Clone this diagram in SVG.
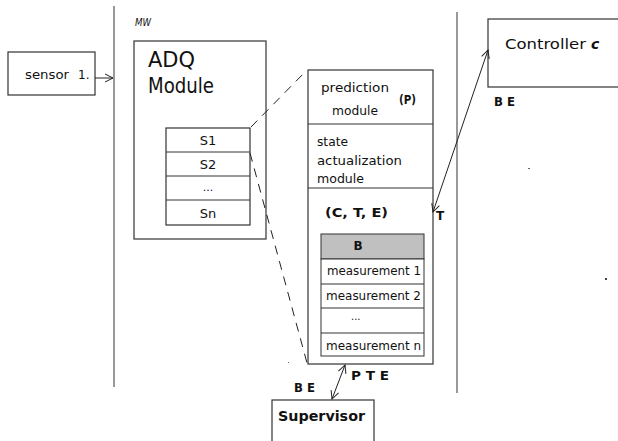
<svg xmlns="http://www.w3.org/2000/svg" width="618" height="441" viewBox="0 0 618 441">
  <style>
    .box { fill: #fff; stroke: #333; stroke-width: 1.2; }
    .t { font-family: "DejaVu Sans", "Liberation Sans", sans-serif; fill: #111; }
    .b { font-weight: bold; }
    .sep { stroke: #777; stroke-width: 1.5; }
    .dash { stroke: #222; stroke-width: 1; fill: none; stroke-dasharray: 9 7; }
    .arr { stroke: #222; stroke-width: 1; fill: none; }
  </style>
  <defs>
    <marker id="head" viewBox="0 0 10 10" refX="9" refY="5" markerWidth="10" markerHeight="10" markerUnits="userSpaceOnUse" orient="auto-start-reverse">
      <path d="M1,1 L9,5 L1,9" fill="none" stroke="#222" stroke-width="1"/>
    </marker>
  </defs>

  <!-- layer separators -->
  <line class="sep" x1="114" y1="6" x2="114" y2="387"/>
  <line class="sep" x1="457" y1="12" x2="457" y2="393" stroke="#333" stroke-width="1.2"/>
  <text class="t" x="135" y="26" font-size="11" font-style="italic" textLength="16" lengthAdjust="spacingAndGlyphs">MW</text>

  <g id="sensor">
    <rect class="box" x="8" y="52" width="87" height="43"/>
    <text class="t" x="25" y="79" font-size="12" textLength="44" lengthAdjust="spacingAndGlyphs">sensor</text>
    <text class="t" x="78" y="79" font-size="12">1.</text>
  </g>

  <g id="adq-module">
    <rect class="box" x="134" y="41" width="132" height="198"/>
    <text class="t" x="148" y="67" font-size="21" textLength="47" lengthAdjust="spacingAndGlyphs">ADQ</text>
    <text class="t" x="148" y="93" font-size="21" textLength="66" lengthAdjust="spacingAndGlyphs">Module</text>
  </g>

  <g id="sensor-list">
    <rect class="box" x="166" y="128" width="84" height="97"/>
    <line x1="166" y1="152" x2="250" y2="152" stroke="#333"/>
    <line x1="166" y1="176" x2="250" y2="176" stroke="#333"/>
    <line x1="166" y1="200" x2="250" y2="200" stroke="#333"/>
    <text class="t" x="208" y="145" font-size="13" text-anchor="middle">S1</text>
    <text class="t" x="208" y="169" font-size="13" text-anchor="middle">S2</text>
    <text class="t" x="208" y="191" font-size="11" text-anchor="middle">...</text>
    <text class="t" x="208" y="218" font-size="13" text-anchor="middle">Sn</text>
  </g>

  <g id="state-module">
    <rect class="box" x="308" y="70" width="125" height="294"/>
    <line x1="308" y1="124" x2="433" y2="124" stroke="#333"/>
    <line x1="308" y1="188" x2="433" y2="188" stroke="#333"/>
    <text class="t" x="321" y="92" font-size="13" textLength="68" lengthAdjust="spacingAndGlyphs">prediction</text>
    <text class="t" x="332" y="115" font-size="13" textLength="46" lengthAdjust="spacingAndGlyphs">module</text>
    <text class="t b" x="399" y="104" font-size="13" textLength="17" lengthAdjust="spacingAndGlyphs">(P)</text>
    <text class="t" x="317" y="146" font-size="13" textLength="31" lengthAdjust="spacingAndGlyphs">state</text>
    <text class="t" x="317" y="165" font-size="13" textLength="85" lengthAdjust="spacingAndGlyphs">actualization</text>
    <text class="t" x="317" y="183" font-size="13" textLength="47" lengthAdjust="spacingAndGlyphs">module</text>
    <text class="t b" x="325" y="217" font-size="13" textLength="63" lengthAdjust="spacingAndGlyphs">(C,  T,  E)</text>
  </g>

  <g id="buffer">
    <rect x="321" y="234" width="103" height="25" fill="#c0c0c0" stroke="#333"/>
    <rect x="321" y="259" width="103" height="97" fill="#fff" stroke="#333"/>
    <line x1="321" y1="284" x2="424" y2="284" stroke="#333"/>
    <line x1="321" y1="308" x2="424" y2="308" stroke="#333"/>
    <line x1="321" y1="333" x2="424" y2="333" stroke="#333"/>
    <text class="t b" x="358" y="250" font-size="12" text-anchor="middle">B</text>
    <text class="t" x="327" y="275" font-size="12.5" textLength="94" lengthAdjust="spacingAndGlyphs">measurement 1</text>
    <text class="t" x="326" y="300" font-size="12.5" textLength="95" lengthAdjust="spacingAndGlyphs">measurement 2</text>
    <text class="t" x="351" y="320" font-size="10">...</text>
    <text class="t" x="326" y="350" font-size="12.5" textLength="95" lengthAdjust="spacingAndGlyphs">measurement n</text>
  </g>

  <g id="controller">
    <rect class="box" x="488" y="19" width="135" height="68"/>
    <text class="t" x="505" y="49" font-size="14" textLength="81" lengthAdjust="spacingAndGlyphs">Controller</text>
    <text class="t b" x="591" y="49" font-size="14" font-style="italic">c</text>
    <text class="t b" x="494" y="106" font-size="12" textLength="21" lengthAdjust="spacingAndGlyphs">B E</text>
  </g>

  <g id="supervisor">
    <rect class="box" x="272" y="400" width="102" height="45"/>
    <text class="t b" x="278" y="421" font-size="14" textLength="87" lengthAdjust="spacingAndGlyphs">Supervisor</text>
    <text class="t b" x="294" y="392" font-size="12" textLength="21" lengthAdjust="spacingAndGlyphs">B E</text>
  </g>

  <g id="connectors">
    <line class="arr" x1="95" y1="78" x2="113" y2="78" marker-end="url(#head)"/>
    <line class="dash" x1="251" y1="127" x2="307" y2="70"/>
    <line class="dash" x1="250" y1="153" x2="307" y2="363"/>
    <line class="arr" x1="433" y1="212" x2="488" y2="50" marker-start="url(#head)" marker-end="url(#head)"/>
    <text class="t b" x="436" y="220" font-size="12">T</text>
    <line class="arr" x1="345" y1="365" x2="332" y2="399" marker-start="url(#head)" marker-end="url(#head)"/>
    <text class="t b" x="351" y="380" font-size="12" textLength="38" lengthAdjust="spacingAndGlyphs">P  T  E</text>
  </g>

  <!-- specks -->
  <rect x="528" y="168" width="2" height="1" fill="#666"/>
  <rect x="605" y="278" width="2" height="2" fill="#444"/>
  <rect x="288" y="362" width="1" height="1" fill="#666"/>
</svg>
